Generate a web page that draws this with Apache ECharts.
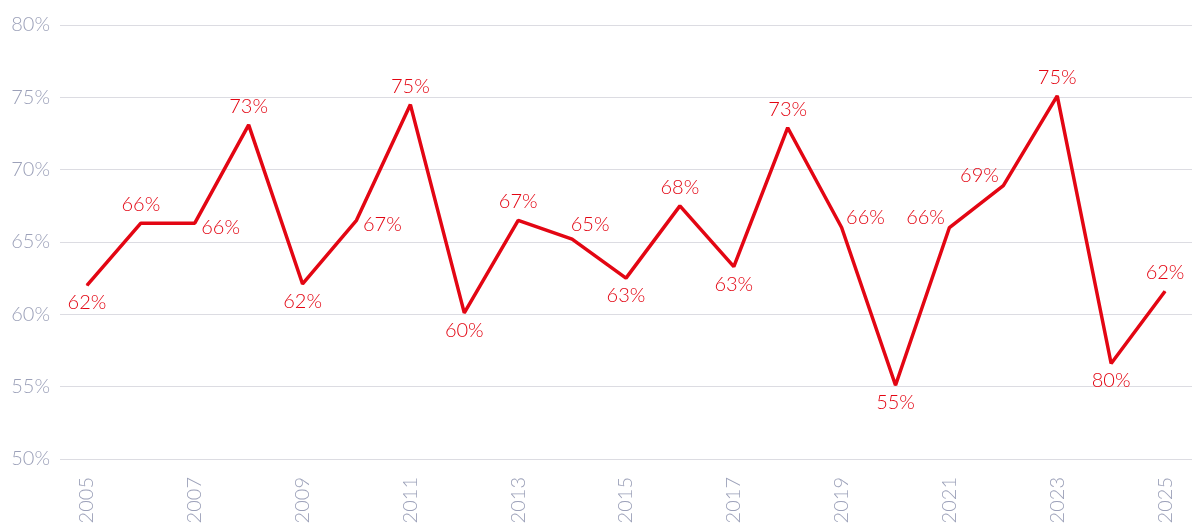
<!DOCTYPE html>
<html>
<head>
<meta charset="utf-8">
<script src="https://cdn.jsdelivr.net/npm/echarts@6/dist/echarts.min.js"></script>
<style>
  html, body { margin: 0; padding: 0; background: #fff; }
  #chart { width: 1192px; height: 523px; }
</style>
</head>
<body>
<div id="chart"></div>
<script>
const years = ['2005', '2006', '2007', '2008', '2009', '2010', '2011', '2012', '2013', '2014', '2015',
  '2016', '2017', '2018', '2019', '2020', '2021', '2022', '2023', '2024', '2025']
const values = [62.0, 66.3, 66.3, 73.1, 62.1, 66.5, 74.5, 60.1, 66.5, 65.2, 62.5,
  67.5, 63.3, 72.9, 66.0, 55.1, 66.0, 68.9, 75.1, 56.6, 61.6]
// label text as printed on the chart
const labelTexts = ['62%', '66%', '66%', '73%', '62%', '67%', '75%', '60%', '67%', '65%', '63%',
  '68%', '63%', '73%', '66%', '55%', '66%', '69%', '75%', '80%', '62%']

// where each label sits relative to its point
const labelPlace = ['bottom', 'top', 'right', 'top', 'bottom', 'right', 'top', 'bottom', 'top', 'topright', 'bottom',
  'top', 'bottom', 'top', 'rightup', 'bottom', 'leftup', 'leftup', 'top', 'bottom', 'top']

const red = '#e30613'
const grey = '#9ca1b9'

function labelFor(p) {
  const base = { show: true, color: red, fontSize: 20, fontFamily: 'Lato', fontWeight: 300, formatter: q => labelTexts[q.dataIndex] }
  if (p === 'top') return { ...base, position: 'top', distance: 8 }
  if (p === 'bottom') return { ...base, position: 'bottom', distance: 7 }
  if (p === 'right') return { ...base, position: 'right', distance: 6, offset: [0, 4] }
  if (p === 'topright') return { ...base, position: 'top', distance: 4, offset: [18, 0] }
  if (p === 'rightup') return { ...base, position: 'right', distance: 4, offset: [0, -10] }
  if (p === 'leftup') return { ...base, position: 'left', distance: 4, offset: [0, -10] }
  return base
}

const chart = echarts.init(document.getElementById('chart'))
chart.setOption({
  animation: false,
  grid: { left: 60, right: 0, top: 25, bottom: 64, containLabel: false, outerBoundsMode: 'none' },
  xAxis: {
    type: 'category',
    data: years,
    boundaryGap: true,
    axisLine: { show: false },
    axisTick: { show: false },
    axisLabel: {
      interval: 1,
      rotate: 90,
      margin: 18,
      color: grey,
      fontSize: 20,
      fontFamily: 'Lato',
      fontWeight: 300
    }
  },
  yAxis: {
    type: 'value',
    min: 50,
    max: 80,
    interval: 5,
    axisLine: { show: false },
    axisTick: { show: false },
    splitLine: { lineStyle: { color: '#dcdce2', width: 1 } },
    axisLabel: {
      margin: 10,
      color: grey,
      fontSize: 20,
      fontFamily: 'Lato',
      fontWeight: 300,
      formatter: '{value}%'
    }
  },
  series: [{
    type: 'line',
    data: values.map((v, i) => ({ value: v, label: labelFor(labelPlace[i]) })),
    symbol: 'circle',
    symbolSize: 1,
    showSymbol: true,
    itemStyle: { color: red },
    lineStyle: { color: red, width: 3.5 },
    label: {
      show: true,
      color: red,
      formatter: p => labelTexts[p.dataIndex]
    }
  }]
})
</script>
</body>
</html>
